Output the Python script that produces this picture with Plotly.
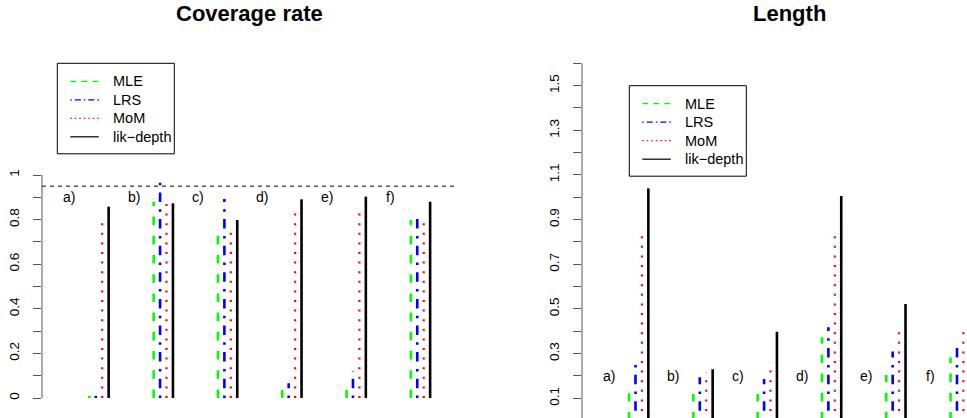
import plotly.graph_objects as go

# ---- data -------------------------------------------------------------
groups = ["a)", "b)", "c)", "d)", "e)", "f)"]
methods = ["MLE", "LRS", "MoM", "lik\u2212depth"]

# coverage rate per scenario
cov_mle = [0.01, 0.88, 0.764, 0.036, 0.036, 0.798]
cov_lrs = [0.01, 0.982, 0.892, 0.066, 0.121, 0.82]
cov_mom = [0.81, 0.895, 0.771, 0.853, 0.85, 0.81]
cov_lik = [0.858, 0.873, 0.798, 0.891, 0.903, 0.88]

# interval length per scenario
len_mle = [0.122, 0.119, 0.119, 0.373, 0.204, 0.283]
len_lrs = [0.283, 0.194, 0.186, 0.418, 0.309, 0.353]
len_mom = [0.853, 0.216, 0.259, 0.853, 0.428, 0.428]
len_lik = [1.04, 0.23, 0.398, 1.006, 0.522, 0.55]

nominal = 0.95

cov_ticks = [0.0, 0.1, 0.2, 0.3, 0.4, 0.5, 0.6, 0.7, 0.8, 0.9, 1.0]
cov_ticktext = ["0", "", "0.2", "", "0.4", "", "0.6", "", "0.8", "", "1"]
len_ticks = [0.1, 0.2, 0.3, 0.4, 0.5, 0.6, 0.7, 0.8, 0.9, 1.0,
             1.1, 1.2, 1.3, 1.4, 1.5, 1.6]
len_ticktext = ["0.1", "", "0.3", "", "0.5", "", "0.7", "", "0.9", "",
                "1.1", "", "1.3", "", "1.5", ""]

# ---- styling ----------------------------------------------------------
colors = ["#00FF00", "#0000FF", "#FF0000", "#000000"]
offsets = [-0.15, -0.05, 0.05, 0.15]
stem_dash = ["8.6px,10.6px", "2.5px,7.3px,9.5px,7.3px", "2px,7.6px", "solid"]
stem_width = [2.6, 2.6, 2.2, 2.6]
key_dash = ["6px,5px", "1.5px,3px,6px,3px", "1.5px,3px", "solid"]
FONT = "Liberation Sans, Arial, Helvetica, sans-serif"
AXIS_COL = "#555555"

W, H = 967, 418
TOP = 40  # px above plot area
PLOT_H = H - TOP


def px_x(px):
    return px / W


def px_y(py):
    return 1 - (py - TOP) / PLOT_H


def stems(values, off):
    xs, ys = [], []
    for i, v in enumerate(values):
        x = i + 1 + off
        xs += [x, x, None]
        ys += [0, v, None]
    return xs, ys


fig = go.Figure()

panels = [
    ("x", "y", [cov_mle, cov_lrs, cov_mom, cov_lik]),
    ("x2", "y2", [len_mle, len_lrs, len_mom, len_lik]),
]

for xa, ya, series in panels:
    for k, vals in enumerate(series):
        xs, ys = stems(vals, offsets[k])
        fig.add_trace(go.Scatter(
            x=xs, y=ys, mode="lines", xaxis=xa, yaxis=ya, name=methods[k],
            line=dict(color=colors[k], width=stem_width[k], dash=stem_dash[k]),
            showlegend=False, hoverinfo="skip"))

# scenario labels
for i, g in enumerate(groups):
    fig.add_annotation(x=i + 1 - 0.46, y=0.9, xref="x", yref="y", text=g,
                       showarrow=False, font=dict(size=14, color="black", family=FONT))
    fig.add_annotation(x=i + 1 - 0.46, y=0.2, xref="x2", yref="y2", text=g,
                       showarrow=False, font=dict(size=14, color="black", family=FONT))

# panel titles
left_dom = [42 / W, 457 / W]
right_dom = [582 / W, 1.0]
for cx, txt in [((42 + 457) / 2, "Coverage rate"), (789, "Length")]:
    fig.add_annotation(x=px_x(cx), y=px_y(13.7), xref="paper", yref="paper",
                       text="<b>" + txt + "</b>", showarrow=False,
                       xanchor="center", yanchor="middle",
                       font=dict(size=22, color="black", family=FONT))


# boxed keys (one per panel)
def add_key(left, top):
    fig.add_shape(type="rect", xref="paper", yref="paper",
                  x0=px_x(left), x1=px_x(left + 117),
                  y0=px_y(top), y1=px_y(top + 90.5),
                  line=dict(color="black", width=1), fillcolor="white", layer="above")
    for k, name in enumerate(methods):
        row = top + 18 + k * 18.5
        fig.add_shape(type="line", xref="paper", yref="paper",
                      x0=px_x(left + 13), x1=px_x(left + 41.5),
                      y0=px_y(row), y1=px_y(row),
                      line=dict(color=colors[k], width=1.2, dash=key_dash[k]),
                      layer="above")
        fig.add_annotation(x=px_x(left + 54), y=px_y(row), xref="paper", yref="paper",
                           text=name, showarrow=False, xanchor="left", yanchor="middle",
                           font=dict(size=14.5, color="black", family=FONT))


add_key(57.3, 63.3)
add_key(629.3, 85.7)

# nominal level and axis spines
fig.add_shape(type="line", xref="x domain", yref="y", x0=0, x1=1,
              y0=nominal, y1=nominal, line=dict(color="black", width=1, dash="4px,4px"))
fig.add_shape(type="line", xref="x domain", yref="y", x0=0, x1=0,
              y0=cov_ticks[0], y1=cov_ticks[-1], line=dict(color=AXIS_COL, width=1))
fig.add_shape(type="line", xref="x2 domain", yref="y2", x0=0, x1=0,
              y0=0, y1=len_ticks[-1], line=dict(color=AXIS_COL, width=1))

yaxis_common = dict(ticks="outside", ticklen=8, tickwidth=1, tickcolor=AXIS_COL,
                    showline=False, showgrid=False, zeroline=False, tickangle=-90,
                    tickfont=dict(size=13.5, color="black", family=FONT),
                    ticklabelstandoff=9)
xaxis_common = dict(visible=False, showgrid=False, zeroline=False)

fig.update_layout(
    width=W, height=H,
    margin=dict(l=0, r=0, t=TOP, b=0),
    paper_bgcolor="white", plot_bgcolor="white",
    showlegend=False,
    xaxis=dict(domain=left_dom, range=[0.1135, 6.568], **xaxis_common),
    xaxis2=dict(domain=right_dom, range=[0.118, 6.106], anchor="y2", **xaxis_common),
    yaxis=dict(domain=[0, 1], range=[-20 / 223, 358 / 223], anchor="x",
               tickvals=cov_ticks, ticktext=cov_ticktext, **yaxis_common),
    yaxis2=dict(domain=[0, 1], range=[(420.6 - 418) / 223.3, (420.6 - 40) / 223.3],
                anchor="x2", tickvals=len_ticks, ticktext=len_ticktext, **yaxis_common),
)

fig.write_html("out.html")
